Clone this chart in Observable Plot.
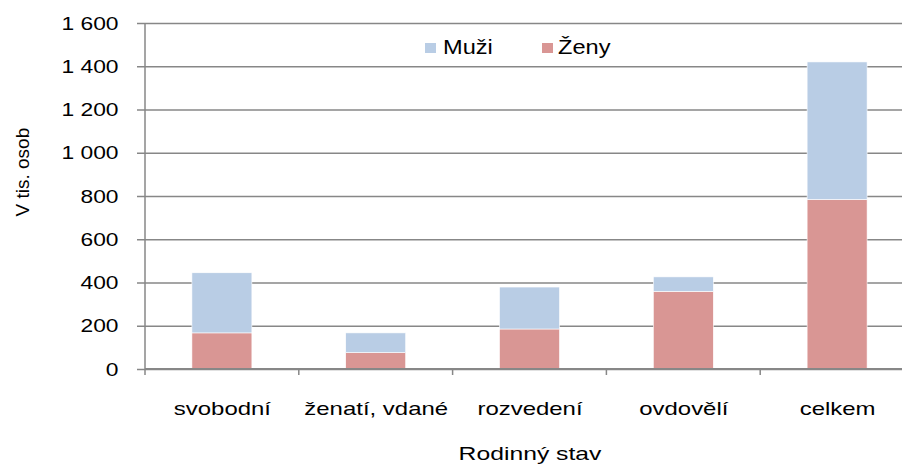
<!DOCTYPE html>
<html>
<head>
<meta charset="utf-8">
<script src="https://cdn.jsdelivr.net/npm/d3@7"></script>
<script src="https://cdn.jsdelivr.net/npm/@observablehq/plot@0.6"></script>
<style>
  html, body { margin: 0; padding: 0; background: #fff; }
  #wrap { position: relative; width: 902px; height: 465px; overflow: hidden; font-family: "Liberation Sans", Arial, sans-serif; }
  #legend { position: absolute; left: 425px; top: 34px; height: 26px; }
  .li { position: absolute; top: 0; height: 26px; }
  .sw { position: absolute; width: 11px; height: 10px; top: 9px; left: 0; }
  .lt { position: absolute; top: 0; font-size: 20px; line-height: 26px; color: #000; white-space: nowrap; transform: scaleX(1.18); transform-origin: left center; }
</style>
</head>
<body>
<div id="wrap">
  <div id="chart"></div>
  <div id="legend"></div>
</div>
<script>
// ---- data ----
const categories = ["svobodní", "ženatí, vdané", "rozvedení", "ovdovělí", "celkem"];
const zeny = [167, 76, 185, 359, 784];
const muzi = [278, 91, 194, 67, 636];
const seriesNames = ["Muži", "Ženy"];
const seriesColors = ["#B9CDE5", "#D99694"];
const yTicks = [0, 200, 400, 600, 800, 1000, 1200, 1400, 1600];
const yLabel = ["V tis. osob"];
const xLabel = "Rodinný stav";

const data = categories.flatMap((c, i) => [
  {cat: c, sex: "Ženy", value: zeny[i]},
  {cat: c, sex: "Muži", value: muzi[i]}
]);

const gray = "#878787";
const fmt = d3.formatLocale({decimal: ",", thousands: "\u00a0", grouping: [3], currency: ["", ""]}).format(",");

const pInner = 0.61;

function axisLines(index, scales, values, dims) {
  const x = scales.x, y = scales.y;
  const bw = typeof x.bandwidth === "function" ? x.bandwidth() : x.bandwidth;
  const step = typeof x.step === "function" ? x.step() : x.step;
  const c0 = x(categories[0]) + bw / 2;
  const y0 = y(0), y1 = y(1600);
  const g = d3.create("svg:g").attr("stroke", gray).attr("stroke-width", 1.5).attr("fill", "none");
  g.append("line").attr("x1", dims.marginLeft).attr("x2", dims.marginLeft).attr("y1", y0 + 6).attr("y2", y1);
  g.append("line").attr("x1", dims.marginLeft).attr("x2", dims.width).attr("y1", y0).attr("y2", y0).attr("stroke-width", 2);
  for (let i = 1; i <= categories.length; i++) {
    const bx = c0 - step / 2 + i * step;
    g.append("line").attr("x1", bx).attr("x2", bx).attr("y1", y0).attr("y2", y0 + 6);
  }
  return g.node();
}

const chart = Plot.plot({
  width: 902,
  height: 465,
  marginLeft: 145,
  marginRight: -12,
  marginTop: 23,
  marginBottom: 96,
  style: {fontFamily: "\"Liberation Sans\", Arial, sans-serif", color: "#000", background: "#fff"},
  x: {type: "band", domain: categories, paddingInner: pInner, paddingOuter: pInner / 2, round: false, label: null},
  y: {domain: [0, 1600], label: null},
  color: {domain: seriesNames, range: seriesColors},
  marks: [
    Plot.gridY({ticks: yTicks, stroke: gray, strokeOpacity: 1, strokeWidth: 1.5}),
    Plot.barY(data, {x: "cat", y: "value", fill: "sex", stroke: "#fff", strokeWidth: 0.6, inset: 0}),
    axisLines,
    Plot.axisY({ticks: yTicks, tickFormat: fmt, tickSize: 8, tickPadding: 19, stroke: gray, strokeWidth: 1.5, fontSize: 19, label: null}),
    Plot.axisX({tickSize: 0, tickPadding: 32, fontSize: 19, label: xLabel, labelAnchor: "center", labelOffset: 90}),
    Plot.text(yLabel, {text: d => d, frameAnchor: "left", rotate: -90, dx: -123, dy: 20, fontSize: 19, fill: "#000"})
  ]
});
document.getElementById("chart").appendChild(chart);

// horizontal stretch of horizontal texts (reference is rendered wider)
chart.querySelectorAll("text").forEach(t => {
  const tr = t.getAttribute("transform") || "";
  if (tr.includes("rotate")) return;
  let stretch = 1.2;
  if (t.textContent === xLabel) stretch = 1.3;
  else if (categories.includes(t.textContent)) stretch = 1.26;
  const L = t.getComputedTextLength();
  if (L > 0) {
    t.setAttribute("textLength", (L * stretch).toFixed(1));
    t.setAttribute("lengthAdjust", "spacingAndGlyphs");
  }
});

// legend
const legend = document.getElementById("legend");
const legendX = [0, 117];
const textX = [18, 16];
seriesNames.forEach((name, i) => {
  const item = document.createElement("div");
  item.className = "li";
  item.style.left = legendX[i] + "px";
  const sw = document.createElement("div");
  sw.className = "sw";
  sw.style.background = seriesColors[i];
  const tx = document.createElement("div");
  tx.className = "lt";
  tx.style.left = textX[i] + "px";
  tx.textContent = name;
  item.appendChild(sw);
  item.appendChild(tx);
  legend.appendChild(item);
});
</script>
</body>
</html>
